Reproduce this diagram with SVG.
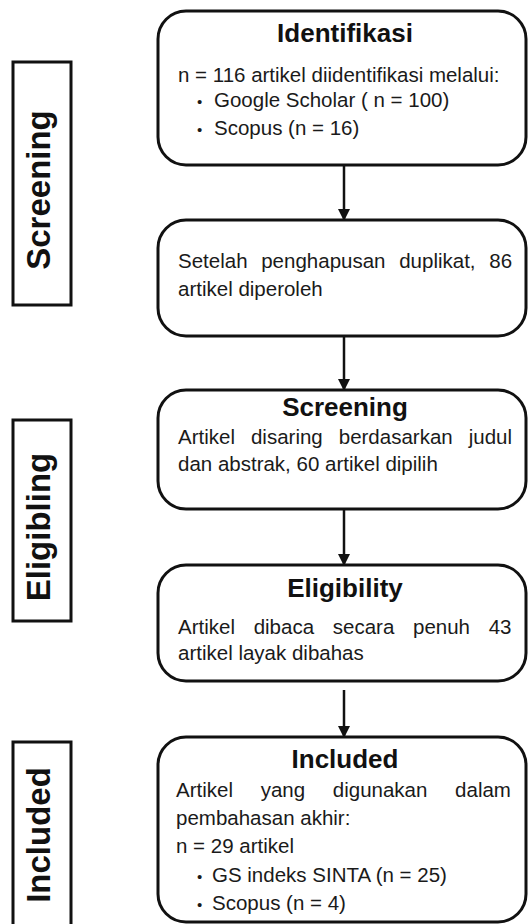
<svg xmlns="http://www.w3.org/2000/svg" width="528" height="924" viewBox="0 0 528 924">
<style>
  .box { fill: #ffffff; stroke: #111111; stroke-width: 3; }
  .lab { fill: #ffffff; stroke: #111111; stroke-width: 3; }
  .title { font-family: "Liberation Sans", Arial, sans-serif; font-weight: bold; font-size: 26px; fill: #111111; text-anchor: middle; }
  .body { font-family: "Liberation Sans", Arial, sans-serif; font-size: 20.5px; fill: #1a1a1a; }
  .side { font-family: "Liberation Sans", Arial, sans-serif; font-weight: bold; font-size: 33px; fill: #111111; text-anchor: middle; }
  .bul { font-size: 15px; }
  .conn { stroke: #111111; stroke-width: 2.5; fill: none; marker-end: url(#ah); }
</style>
<defs>
  <marker id="ah" markerWidth="12" markerHeight="12" refX="11" refY="6" orient="auto" markerUnits="userSpaceOnUse">
    <path d="M0,0 L12,6 L0,12 Z" fill="#111111"/>
  </marker>
</defs>
<rect width="528" height="924" fill="#ffffff"/>

<g id="label-screening">
  <rect class="lab" x="13" y="62" width="58" height="243"/>
  <text class="side" transform="translate(50,190) rotate(-90)">Screening</text>
</g>
<g id="label-eligibling">
  <rect class="lab" x="13" y="420" width="58" height="201"/>
  <text class="side" transform="translate(50,527) rotate(-90)">Eligibling</text>
</g>
<g id="label-included">
  <rect class="lab" x="13" y="742" width="58" height="200"/>
  <text class="side" transform="translate(50,835) rotate(-90)">Included</text>
</g>

<g id="connectors">
  <line class="conn" x1="344" y1="165" x2="344" y2="220"/>
  <line class="conn" x1="344" y1="336" x2="344" y2="390"/>
  <line class="conn" x1="344" y1="509" x2="344" y2="565"/>
  <line class="conn" x1="344" y1="690" x2="344" y2="737"/>
</g>

<g id="node-identifikasi">
  <rect class="box" x="158" y="11" width="368" height="154" rx="28" ry="28"/>
  <text class="title" x="345" y="42">Identifikasi</text>
  <text class="body" x="178" y="82">n = 116 artikel diidentifikasi melalui:</text>
  <text class="body" x="197" y="107"><tspan class="bul">•</tspan><tspan x="214">Google Scholar ( n = 100)</tspan></text>
  <text class="body" x="197" y="135"><tspan class="bul">•</tspan><tspan x="214">Scopus (n = 16)</tspan></text>
</g>

<g id="node-duplikat">
  <rect class="box" x="158" y="220" width="368" height="116" rx="28" ry="28"/>
  <text class="body" x="178" y="268" word-spacing="8">Setelah penghapusan duplikat, 86</text>
  <text class="body" x="178" y="296">artikel diperoleh</text>
</g>

<g id="node-screening">
  <rect class="box" x="158" y="390" width="368" height="119" rx="28" ry="28"/>
  <text class="title" x="345" y="416">Screening</text>
  <text class="body" x="178" y="444" word-spacing="10.3">Artikel disaring berdasarkan judul</text>
  <text class="body" x="178" y="471">dan abstrak, 60 artikel dipilih</text>
</g>

<g id="node-eligibility">
  <rect class="box" x="158" y="565" width="368" height="116" rx="28" ry="28"/>
  <text class="title" x="345" y="597">Eligibility</text>
  <text class="body" x="178" y="634" word-spacing="13">Artikel dibaca secara penuh 43</text>
  <text class="body" x="178" y="660">artikel layak dibahas</text>
</g>

<g id="node-included">
  <rect class="box" x="158" y="737" width="368" height="185" rx="28" ry="28"/>
  <text class="title" x="345" y="768">Included</text>
  <text class="body" x="176" y="797" word-spacing="22">Artikel yang digunakan dalam</text>
  <text class="body" x="176" y="825">pembahasan akhir:</text>
  <text class="body" x="176" y="853">n = 29 artikel</text>
  <text class="body" x="197" y="882"><tspan class="bul">•</tspan><tspan x="212">GS indeks SINTA (n = 25)</tspan></text>
  <text class="body" x="197" y="910"><tspan class="bul">•</tspan><tspan x="212">Scopus (n = 4)</tspan></text>
</g>
</svg>
